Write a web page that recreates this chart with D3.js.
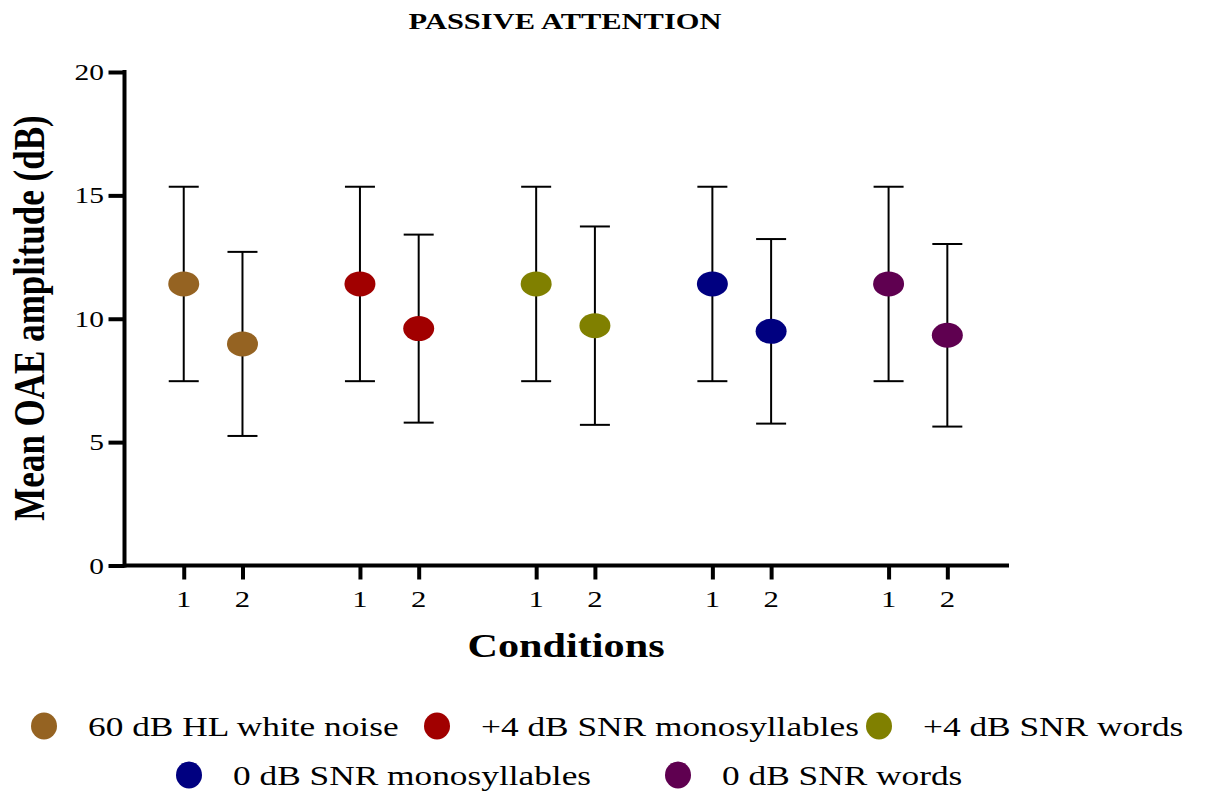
<!DOCTYPE html>
<html>
<head>
<meta charset="utf-8">
<script src="https://cdn.jsdelivr.net/npm/d3@7"></script>
<style>
	body { margin: 0; background: #fff; }
	text { font-family: "Liberation Serif", "Times New Roman", serif; fill: #000; }
</style>
</head>
<body>
<svg id="chart" width="1205" height="793"></svg>
<script>
// stimulus groups, each measured in condition 1 and 2
const groups = ['60 dB HL white noise', '+4 dB SNR monosyllables', '+4 dB SNR words', '0 dB SNR monosyllables', '0 dB SNR words']
const conditionLabels = ['1', '2']
const mean1 = [11.41, 11.41, 11.41, 11.41, 11.41]
const sd1 = [3.94, 3.94, 3.94, 3.94, 3.94]
const mean2 = [8.98, 9.60, 9.72, 9.49, 9.33]
const sd2 = [3.73, 3.81, 4.02, 3.74, 3.70]
const yTicks = [0, 5, 10, 15, 20]
const palette = ['#956322', '#a10000', '#808000', '#000080', '#5f0050']

// the source picture is stretched sideways, text gets the same stretch
const SX = 1.28

const svg = d3.select('#chart')

const points = groups.flatMap((g, i) => [
	{ group: i, cond: 0, mean: mean1[i], sd: sd1[i] },
	{ group: i, cond: 1, mean: mean2[i], sd: sd2[i] }
])
const pos = d => d.group * 3 + d.cond

const x = d3.scaleLinear().domain([-1, 14.05]).range([125, 1009])
const y = d3.scaleLinear().domain([0, 20]).range([565.5, 72])

const stretched = (sel, px, py, extra = '') =>
	sel.attr('transform', `translate(${px},${py}) scale(${SX},1)${extra}`)

// y axis
const yAxis = svg.append('g')
	.attr('transform', 'translate(124.5,0)')
	.call(d3.axisLeft(y).tickValues(yTicks).tickSize(16).tickSizeOuter(0).tickFormat(''))
yAxis.select('.domain').attr('stroke-width', 4).attr('d', `M0,${y(20) - 2}V${y(0) + 2}`)
yAxis.selectAll('.tick line').attr('stroke-width', 4)

svg.append('g').selectAll('text')
	.data(yTicks)
	.join('text')
	.each(function (d) { stretched(d3.select(this), 104, y(d)) })
	.attr('text-anchor', 'end')
	.attr('dy', '0.35em')
	.attr('font-size', 23)
	.text(d => d)

// x axis
const tickPos = points.map(pos)
const xAxis = svg.append('g')
	.attr('transform', `translate(0,${y(0)})`)
	.call(d3.axisBottom(x).tickValues(tickPos).tickSize(14).tickSizeOuter(0).tickFormat(''))
xAxis.select('.domain').attr('stroke-width', 4).attr('d', `M${x(-1) - 2},0H${x(14.05)}`)
xAxis.selectAll('.tick line').attr('stroke-width', 4)

svg.append('g').selectAll('text')
	.data(points)
	.join('text')
	.each(function (d) { stretched(d3.select(this), x(pos(d)), 607) })
	.attr('text-anchor', 'middle')
	.attr('font-size', 24)
	.text(d => conditionLabels[d.cond])

// error bars
const bars = svg.append('g').attr('stroke', '#000').attr('stroke-width', 2)
bars.selectAll('line.v')
	.data(points)
	.join('line')
	.attr('class', 'v')
	.attr('x1', d => x(pos(d))).attr('x2', d => x(pos(d)))
	.attr('y1', d => y(d.mean + d.sd)).attr('y2', d => y(d.mean - d.sd))
bars.selectAll('line.cap')
	.data(points.flatMap(d => [{ p: pos(d), v: d.mean + d.sd }, { p: pos(d), v: d.mean - d.sd }]))
	.join('line')
	.attr('class', 'cap')
	.attr('x1', d => x(d.p) - 15).attr('x2', d => x(d.p) + 15)
	.attr('y1', d => y(d.v)).attr('y2', d => y(d.v))

// means
svg.append('g').selectAll('ellipse')
	.data(points)
	.join('ellipse')
	.attr('cx', d => x(pos(d)))
	.attr('cy', d => y(d.mean))
	.attr('rx', 15.5)
	.attr('ry', 12.5)
	.attr('fill', d => palette[d.group])

// titles
stretched(svg.append('text'), 565, 29)
	.attr('text-anchor', 'middle')
	.attr('font-size', 23.8)
	.attr('font-weight', 'bold')
	.text('PASSIVE ATTENTION')

stretched(svg.append('text'), 566, 657)
	.attr('text-anchor', 'middle')
	.attr('font-size', 33)
	.attr('font-weight', 'bold')
	.text('Conditions')

stretched(svg.append('text'), 44, 318, ' rotate(-90)')
	.attr('text-anchor', 'middle')
	.attr('font-size', 35)
	.attr('font-weight', 'bold')
	.text('Mean OAE amplitude (dB)')

// legend, two rows like the original
const legendSlots = [[44, 726], [437, 726], [879, 726], [189, 775], [678, 775]]
const legend = svg.append('g').selectAll('g')
	.data(groups)
	.join('g')
	.attr('transform', (d, i) => `translate(${legendSlots[i][0]},${legendSlots[i][1]})`)
legend.append('ellipse')
	.attr('rx', 13)
	.attr('ry', 13.5)
	.attr('fill', (d, i) => palette[i])
legend.append('text')
	.attr('transform', `translate(44,0) scale(${SX},1)`)
	.attr('dy', '0.35em')
	.attr('font-size', 27.6)
	.text(d => d)
</script>
</body>
</html>
